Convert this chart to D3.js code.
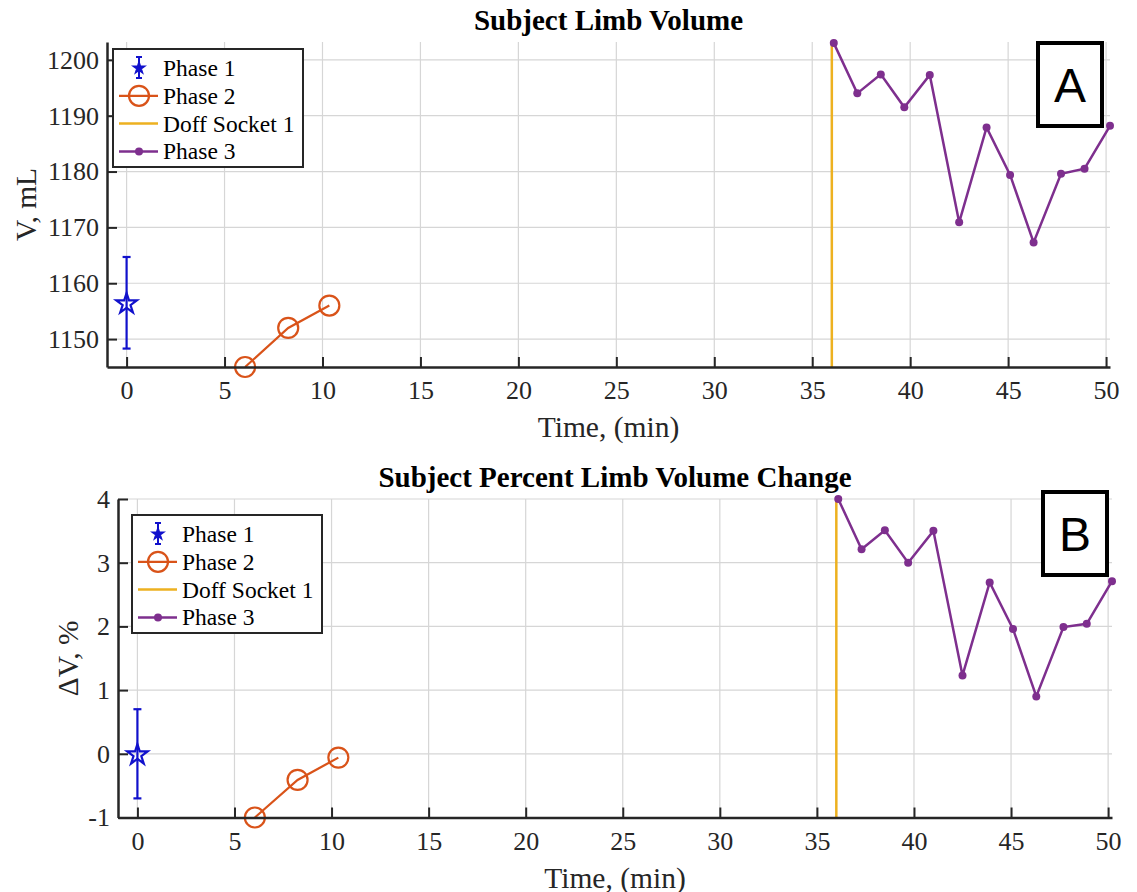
<!DOCTYPE html>
<html lang="en">
<head>
<meta charset="utf-8">
<title>Subject Limb Volume</title>
<script src="https://d3js.org/d3.v7.min.js"></script>
<style>
  body { margin: 0; background: #fff; }
  svg { font-family: "Liberation Serif", "Times New Roman", serif; }
  .grid line { stroke: #d6d6d6; stroke-width: 1.2px; }
  .axis path, .axis line { stroke: #262626; }
  .axis path { stroke-width: 2.5px; }
  .axis line { stroke-width: 2px; }
  .axis text { font-size: 26px; fill: #262626; font-family: "Liberation Serif", "Times New Roman", serif; }
</style>
</head>
<body>
<div id="chart"></div>
<script>

// time in minutes
var phase1Time = [0];
var phase2Time = [6.05, 8.25, 10.35];
var doffTime = [36];
var phase3Time = [36.1, 37.3, 38.5, 39.7, 41.0, 42.5, 43.9, 45.1, 46.3, 47.7, 48.9, 50.2];

// panel A: limb volume, mL
var volPhase1 = [1156.5];
var volPhase1Err = [8.2];
var volPhase2 = [1145, 1152, 1156];
var volPhase3 = [1203, 1194, 1197.4, 1191.5, 1197.3, 1170.9, 1187.9, 1179.4, 1167.3, 1179.6, 1180.5, 1188.2];

// panel B: percent volume change
var pctPhase1 = [0];
var pctPhase1Err = [0.7];
var pctPhase2 = [-1.0, -0.41, -0.06];
var pctPhase3 = [4.0, 3.21, 3.51, 3.0, 3.5, 1.23, 2.69, 1.96, 0.9, 1.99, 2.04, 2.71];

var xTicks = [0, 5, 10, 15, 20, 25, 30, 35, 40, 45, 50];
var volTicks = [1150, 1160, 1170, 1180, 1190, 1200];
var pctTicks = [-1, 0, 1, 2, 3, 4];
var legendLabels = ["Phase 1", "Phase 2", "Doff Socket 1", "Phase 3"];

var c1 = "#1111cc", c2 = "#d95319", c3 = "#edb120", c4 = "#7e2f8e";

var w = 1137, h = 892;

var svg = d3.select("#chart")
	.append("svg")
	.attr("width", w)
	.attr("height", h);

var star = d3.symbol().type(d3.symbolStar);

function drawPanel(o) {
	var x = d3.scaleLinear().domain([-1, 50.2]).range([o.left, o.right]);
	var y = d3.scaleLinear().domain(o.yDomain).range([o.bottom, o.top]);
	var g = svg.append("g");

	// grid
	var grid = g.append("g").attr("class", "grid");
	grid.selectAll(".gx").data(xTicks).enter().append("line")
		.attr("x1", function(d) {return x(d);}).attr("x2", function(d) {return x(d);})
		.attr("y1", o.top).attr("y2", o.bottom);
	grid.selectAll(".gy").data(o.yTicks).enter().append("line")
		.attr("x1", o.left).attr("x2", o.right)
		.attr("y1", function(d) {return y(d);}).attr("y2", function(d) {return y(d);});

	// doff socket line
	g.selectAll(".doff").data(doffTime).enter().append("line")
		.attr("x1", function(d) {return x(d);}).attr("x2", function(d) {return x(d);})
		.attr("y1", o.bottom).attr("y2", o.top)
		.attr("stroke", c3).attr("stroke-width", 2.5);

	// phase 1: errorbar + star
	var p1 = o.p1.map(function(v, i) {return {t: phase1Time[i], v: v, e: o.p1Err[i]};});
	var eb = g.selectAll(".p1").data(p1).enter().append("g")
		.attr("stroke", c1).attr("stroke-width", 2.2).attr("fill", "none");
	eb.append("line")
		.attr("x1", function(d) {return x(d.t);}).attr("x2", function(d) {return x(d.t);})
		.attr("y1", function(d) {return y(d.v - d.e);}).attr("y2", function(d) {return y(d.v + d.e);});
	[-1, 1].forEach(function(s) {
		eb.append("line")
			.attr("x1", function(d) {return x(d.t) - 4;}).attr("x2", function(d) {return x(d.t) + 4;})
			.attr("y1", function(d) {return y(d.v + s * d.e);}).attr("y2", function(d) {return y(d.v + s * d.e);});
	});
	eb.append("path")
		.attr("d", star.size(130)())
		.attr("transform", function(d) {return "translate(" + x(d.t) + "," + (y(d.v) + 1) + ")";});

	// phase 2
	var p2 = o.p2.map(function(v, i) {return {t: phase2Time[i], v: v};});
	var line = d3.line().x(function(d) {return x(d.t);}).y(function(d) {return y(d.v);});
	g.append("path").datum(p2).attr("d", line)
		.attr("fill", "none").attr("stroke", c2).attr("stroke-width", 2.2);
	g.selectAll(".p2").data(p2).enter().append("circle")
		.attr("cx", function(d) {return x(d.t);}).attr("cy", function(d) {return y(d.v);})
		.attr("r", 10).attr("fill", "none").attr("stroke", c2).attr("stroke-width", 2.2);

	// phase 3
	var p3 = o.p3.map(function(v, i) {return {t: phase3Time[i], v: v};});
	g.append("path").datum(p3).attr("d", line)
		.attr("fill", "none").attr("stroke", c4).attr("stroke-width", 2.5);
	g.selectAll(".p3").data(p3).enter().append("circle")
		.attr("cx", function(d) {return x(d.t);}).attr("cy", function(d) {return y(d.v);})
		.attr("r", 4).attr("fill", c4);

	// axes (hyphen minus like the original, not unicode minus)
	var fmt = function(d) {return String(d);};
	g.append("g").attr("class", "axis")
		.attr("transform", "translate(0," + o.bottom + ")")
		.call(d3.axisBottom(x).tickValues(xTicks).tickSizeInner(-10).tickSizeOuter(0).tickPadding(14).tickFormat(fmt))
		.attr("font-family", null).attr("font-size", null);
	g.append("g").attr("class", "axis")
		.attr("transform", "translate(" + o.left + ",0)")
		.call(d3.axisLeft(y).tickValues(o.yTicks).tickSizeInner(-10).tickSizeOuter(0).tickPadding(8).tickFormat(fmt))
		.attr("font-family", null).attr("font-size", null);

	// labels
	g.append("text")
		.attr("x", (o.left + o.right) / 2).attr("y", o.top - 12)
		.attr("text-anchor", "middle").attr("font-weight", "bold")
		.attr("font-size", "29px").text(o.title);
	g.append("text")
		.attr("x", (o.left + o.right) / 2).attr("y", o.bottom + 70)
		.attr("text-anchor", "middle").attr("font-size", "29.5px").attr("fill", "#262626")
		.text("Time, (min)");
	g.append("text")
		.attr("transform", "translate(" + o.yLabelX + "," + ((o.top + o.bottom) / 2) + ") rotate(-90)")
		.attr("text-anchor", "middle").attr("font-size", "29.5px").attr("fill", "#262626")
		.text(o.yLabel);

	// panel letter
	g.append("rect")
		.attr("x", o.box[0]).attr("y", o.box[1]).attr("width", 64).attr("height", 83)
		.attr("fill", "#fff").attr("stroke", "#000").attr("stroke-width", 4);
	g.append("text")
		.attr("x", o.box[0] + 32).attr("y", o.box[1] + 59)
		.attr("text-anchor", "middle")
		.attr("font-family", "'Liberation Sans', Arial, sans-serif")
		.attr("font-size", "48px").text(o.letter);

	// legend
	var lg = g.append("g").attr("transform", "translate(" + o.legend[0] + "," + o.legend[1] + ")");
	lg.append("rect").attr("width", 190).attr("height", 118)
		.attr("fill", "#fff").attr("stroke", "#262626").attr("stroke-width", 2);
	var rows = lg.selectAll(".row").data(legendLabels).enter().append("g")
		.attr("transform", function(d, i) {return "translate(0," + (19 + i * 27.8) + ")";});
	rows.append("text")
		.attr("x", 50).attr("y", 8).attr("font-size", "23.5px").text(function(d) {return d;});
	// phase 1 symbol
	var r0 = d3.select(rows.nodes()[0]).append("g").attr("stroke", c1).attr("stroke-width", 2).attr("fill", c1);
	r0.append("line").attr("x1", 26).attr("x2", 26).attr("y1", -11).attr("y2", 10);
	r0.append("line").attr("x1", 23).attr("x2", 29).attr("y1", -11).attr("y2", -11);
	r0.append("line").attr("x1", 23).attr("x2", 29).attr("y1", 10).attr("y2", 10);
	r0.append("path").attr("d", star.size(30)()).attr("transform", "translate(26,0)");
	// phase 2 symbol
	var r1 = d3.select(rows.nodes()[1]);
	r1.append("line").attr("x1", 6).attr("x2", 45).attr("stroke", c2).attr("stroke-width", 2.2);
	r1.append("circle").attr("cx", 26).attr("r", 10).attr("fill", "none").attr("stroke", c2).attr("stroke-width", 2.2);
	// doff symbol
	d3.select(rows.nodes()[2]).append("line").attr("x1", 6).attr("x2", 45)
		.attr("stroke", c3).attr("stroke-width", 2.5);
	// phase 3 symbol
	var r3 = d3.select(rows.nodes()[3]);
	r3.append("line").attr("x1", 6).attr("x2", 45).attr("stroke", c4).attr("stroke-width", 2.5);
	r3.append("circle").attr("cx", 26).attr("r", 4).attr("fill", c4);
}

drawPanel({
	left: 107, right: 1110, top: 42, bottom: 367,
	yDomain: [1145, 1203.2], yTicks: volTicks,
	title: "Subject Limb Volume", yLabel: "V, mL", yLabelX: 36,
	p1: volPhase1, p1Err: volPhase1Err, p2: volPhase2, p3: volPhase3,
	letter: "A", box: [1038, 43], legend: [113, 49]
});

drawPanel({
	left: 118, right: 1112, top: 499, bottom: 817.5,
	yDomain: [-1, 4], yTicks: pctTicks,
	title: "Subject Percent Limb Volume Change", yLabel: "\u0394V, %", yLabelX: 78,
	p1: pctPhase1, p1Err: pctPhase1Err, p2: pctPhase2, p3: pctPhase3,
	letter: "B", box: [1043, 492], legend: [132, 515]
});
</script>
</body>
</html>
